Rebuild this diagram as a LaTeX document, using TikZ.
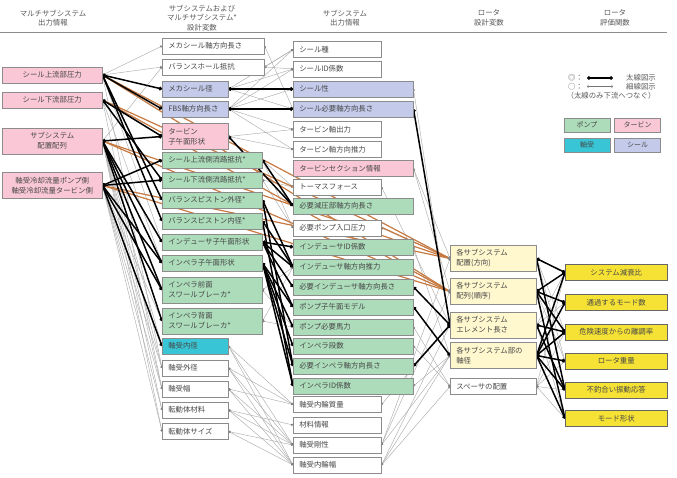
\documentclass[tikz,border=0pt]{standalone}
\usepackage{fontspec}
\setmainfont{Noto Sans CJK JP}
\usetikzlibrary{arrows.meta,backgrounds}
\definecolor{pinkbg}{RGB}{249,199,213}
\definecolor{greenbg}{RGB}{172,220,186}
\definecolor{bluebg}{RGB}{195,202,234}
\definecolor{cyanbg}{RGB}{56,198,214}
\definecolor{ylight}{RGB}{255,247,206}
\definecolor{ybright}{RGB}{246,226,52}
\definecolor{copperc}{RGB}{198,122,66}

\begin{document}
\begin{tikzpicture}[
  x=1pt, y=-1pt,
  font=\fontsize{7.4}{10}\selectfont,
  box/.style={draw=black!45, line width=0.5pt, anchor=west, inner xsep=6pt, inner ysep=0pt, align=left, text=black!72, minimum height=16pt, text width=#1},
  tall/.style={minimum height=26pt},
  mid/.style={align=center},
  head/.style={align=center, text=black!65, font=\fontsize{7.4}{9.5}\selectfont},
  lgtext/.style={text=black!65, inner sep=0pt, font=\fontsize{7.4}{8}\selectfont},
  lgbox/.style={draw=black!45, line width=0.5pt, minimum width=46pt, minimum height=14pt, inner sep=0pt, text=black!72, font=\fontsize{7}{8}\selectfont},
  strong/.style={draw=black, line width=1.5pt, {Circle[length=3.6pt]}-{Circle[length=3.6pt]}},
  weak/.style={draw=black!32, line width=0.45pt, {Circle[length=2.2pt,color=black!50]}-{Circle[length=2.2pt,color=black!50]}},
  copper/.style={draw=copperc, line width=1.2pt, -{Circle[length=2.4pt,color=black!45]}}
]
\useasboundingbox (0,0) rectangle (677,478);

% Column headers
\node[head] (t1) at (53,18) {マルチサブシステム\\出力情報};
\node[head] (t2) at (202,18) {サブシステムおよび\\マルチサブシステム*\\設計変数};
\node[head] (t3) at (345,18) {サブシステム\\出力情報};
\node[head] (t4) at (489,18) {ロータ\\設計変数};
\node[head] (t5) at (615,18) {ロータ\\評価関数};
\coordinate (rl) at (0,32);
\coordinate (rr) at (667,32);
\draw[black!45, line width=0.6pt] (rl) -- (rr);

% Column 1
\node[box=88pt, mid, fill=pinkbg] (a1) at (2,75) {シール上流部圧力};
\node[box=88pt, mid, fill=pinkbg] (a2) at (2,100) {シール下流部圧力};
\node[box=88pt, mid, tall, fill=pinkbg] (a3) at (2,141) {サブシステム\\配置配列};
\node[box=88pt, mid, tall, fill=pinkbg] (a4) at (2,185.5) {軸受冷却流量ポンプ側\\軸受冷却流量タービン側};

% Column 2
\node[box=90pt, fill=white] (b1) at (162,46) {メカシール軸方向長さ};
\node[box=90pt, fill=white] (b2) at (162,67) {バランスホール抵抗};
\node[box=54pt, fill=bluebg] (b3) at (162,89) {メカシール径};
\node[box=54pt, fill=bluebg] (b4) at (162,109) {FBS軸方向長さ};
\node[box=54pt, tall, fill=pinkbg] (b5) at (162,136.5) {タービン\\子午面形状};
\node[box=88pt, fill=greenbg] (b6) at (162,160) {シール上流側流路抵抗*};
\node[box=88pt, fill=greenbg] (b7) at (162,180) {シール下流側流路抵抗*};
\node[box=88pt, fill=greenbg] (b8) at (162,200) {バランスピストン外径*};
\node[box=88pt, fill=greenbg] (b9) at (162,221) {バランスピストン内径*};
\node[box=88pt, fill=greenbg] (b10) at (162,242) {インデューサ子午面形状};
\node[box=88pt, fill=greenbg] (b11) at (162,263) {インペラ子午面形状};
\node[box=88pt, tall, fill=greenbg] (b12) at (162,290) {インペラ前面\\スワールブレーカ*};
\node[box=88pt, tall, fill=greenbg] (b13) at (162,321) {インペラ背面\\スワールブレーカ*};
\node[box=54pt, fill=cyanbg] (b14) at (162,346) {軸受内径};
\node[box=54pt, fill=white] (b15) at (162,368) {軸受外径};
\node[box=54pt, fill=white] (b16) at (162,389) {軸受幅};
\node[box=54pt, fill=white] (b17) at (162,410) {転動体材料};
\node[box=54pt, fill=white] (b18) at (162,431.5) {転動体サイズ};

% Column 3
\node[box=76pt, fill=white] (c1) at (293,49.5) {シール種};
\node[box=76pt, fill=white] (c2) at (293,69) {シールID係数};
\node[box=108pt, fill=bluebg] (c3) at (293,89) {シール性};
\node[box=108pt, fill=bluebg] (c4) at (293,109) {シール必要軸方向長さ};
\node[box=76pt, fill=white] (c5) at (293,129.5) {タービン軸出力};
\node[box=76pt, fill=white] (c6) at (293,149.5) {タービン軸方向推力};
\node[box=108pt, fill=pinkbg] (c7) at (293,168.5) {タービンセクション情報};
\node[box=76pt, fill=white] (c8) at (293,187) {トーマスフォース};
\node[box=108pt, fill=greenbg] (c9) at (293,206) {必要減圧部軸方向長さ};
\node[box=76pt, fill=white] (c10) at (293,228) {必要ポンプ入口圧力};
\node[box=108pt, fill=greenbg] (c11) at (293,247) {インデューサID係数};
\node[box=108pt, fill=greenbg] (c12) at (293,267) {インデューサ軸方向推力};
\node[box=108pt, fill=greenbg] (c13) at (293,287) {必要インデューサ軸方向長さ};
\node[box=108pt, fill=greenbg] (c14) at (293,307) {ポンプ子午面モデル};
\node[box=108pt, fill=greenbg] (c15) at (293,327) {ポンプ必要馬力};
\node[box=108pt, fill=greenbg] (c16) at (293,346) {インペラ段数};
\node[box=108pt, fill=greenbg] (c17) at (293,366) {必要インペラ軸方向長さ};
\node[box=108pt, fill=greenbg] (c18) at (293,386) {インペラID係数};
\node[box=76pt, fill=white] (c19) at (293,404.5) {軸受内輪質量};
\node[box=76pt, fill=white] (c20) at (293,425) {材料情報};
\node[box=76pt, fill=white] (c21) at (293,445) {軸受剛性};
\node[box=76pt, fill=white] (c22) at (293,465) {軸受内輪幅};

% Column 4
\node[box=74pt, tall, fill=ylight] (d1) at (450,258.5) {各サブシステム\\配置(方向)};
\node[box=74pt, tall, fill=ylight] (d2) at (450,291.5) {各サブシステム\\配列(順序)};
\node[box=74pt, tall, fill=ylight] (d3) at (450,325) {各サブシステム\\エレメント長さ};
\node[box=74pt, tall, fill=ylight] (d4) at (450,355.5) {各サブシステム部の\\軸径};
\node[box=74pt, fill=white] (d5) at (450,386.5) {スペーサの配置};

% Column 5
\node[box=90pt, mid, fill=ybright, draw=black!60] (e1) at (565,272.5) {システム減衰比};
\node[box=90pt, mid, fill=ybright, draw=black!60] (e2) at (565,302.5) {通過するモード数};
\node[box=90pt, mid, fill=ybright, draw=black!60] (e3) at (565,332) {危険速度からの離調率};
\node[box=90pt, mid, fill=ybright, draw=black!60] (e4) at (565,361) {ロータ重量};
\node[box=90pt, mid, fill=ybright, draw=black!60] (e5) at (565,390) {不釣合い振動応答};
\node[box=90pt, mid, fill=ybright, draw=black!60] (e6) at (565,418.5) {モード形状};

% Legend
\node[lgtext, anchor=west] (l1) at (568,78) {◎：};
\node[lgtext, anchor=east] (l1t) at (656,78) {太線図示};
\node[lgtext, anchor=west] (l2) at (568,86.5) {○：};
\node[lgtext, anchor=east] (l2t) at (656,86.5) {細線図示};
\node[lgtext] (l3) at (611,95.5) {（太線のみ下流へつなぐ）};
\coordinate (s1) at (587,78);
\coordinate (s2) at (613,78);
\coordinate (w1) at (587,86.5);
\coordinate (w2) at (613,86.5);
\draw[strong, line width=1.1pt] (s1) -- (s2);
\draw[weak, draw=black!55] (w1) -- (w2);
\node[lgbox, fill=greenbg] (k1) at (587,125) {ポンプ};
\node[lgbox, fill=pinkbg] (k2) at (637.5,125) {タービン};
\node[lgbox, fill=cyanbg] (k3) at (587,145) {軸受};
\node[lgbox, fill=bluebg] (k4) at (637.5,145) {シール};

% Links
\begin{scope}[on background layer]
\foreach \s/\t in {a1/b1,a1/b2,a1/b10,a1/b15,a2/b11,a2/b16,a3/b2,a3/b14,a3/b15,a3/b16,a3/b17,a3/b18,a4/b13,a4/b15,a4/b16,a4/b17,a4/b18,
  b1/c4,b2/c1,b2/c2,b3/c1,b3/c2,b3/c4,b4/c1,b4/c2,b4/c3,b4/c5,b4/c6,b5/c5,b5/c6,b6/c8,b6/c10,b7/c8,b7/c10,b12/c12,b12/c15,b13/c12,b13/c15,
  b14/c19,b14/c21,b14/c22,b15/c19,b15/c21,b15/c22,b16/c19,b16/c21,b16/c22,b17/c20,b17/c21,b17/c22,b18/c21,b18/c22,
  c3/d3,c7/d1,c7/d2,c8/d3,c10/d1,c11/d4,c15/d5,c16/d5,c18/d4,c19/d3,c21/d1,c21/d2,c21/d4,c22/d3,c22/d4,c22/d5,
  d1/e3,d1/e4,d2/e4,d3/e1,d3/e2,d3/e6,d5/e1,d5/e3,d5/e4,d5/e5,d5/e6}
  \draw[weak] (\s.east) -- (\t.west);
\foreach \s/\t in {a1/d1,a1/d2,a2/d1,a2/d2,a3/d1,a3/d2,a4/d1,a4/d2}
  \draw[copper] (\s.east) -- (\t.west);
\foreach \s/\t in {a1/b3,a1/b4,a1/b8,a1/b9,a2/b5,a2/b7,a3/b5,a3/b10,a3/b11,a3/b12,a3/b13,a4/b6,a4/b7,a4/b11,a4/b12,a4/b14,
  b3/c3,b4/c4,b5/c9,b6/c9,b8/c12,b8/c17,b9/c12,b9/c18,b10/c11,b10/c12,b10/c13,b10/c14,b11/c14,b11/c15,b11/c16,b11/c17,b11/c18,
  c4/d3,c13/d3,c14/d4,c17/d3,
  d1/e1,d1/e5,d2/e1,d2/e2,d2/e3,d2/e6,d3/e3,d3/e5,d4/e1,d4/e2,d4/e3,d4/e4,d4/e5,d4/e6}
  \draw[strong] (\s.east) -- (\t.west);
\end{scope}

\end{tikzpicture}
\end{document}
